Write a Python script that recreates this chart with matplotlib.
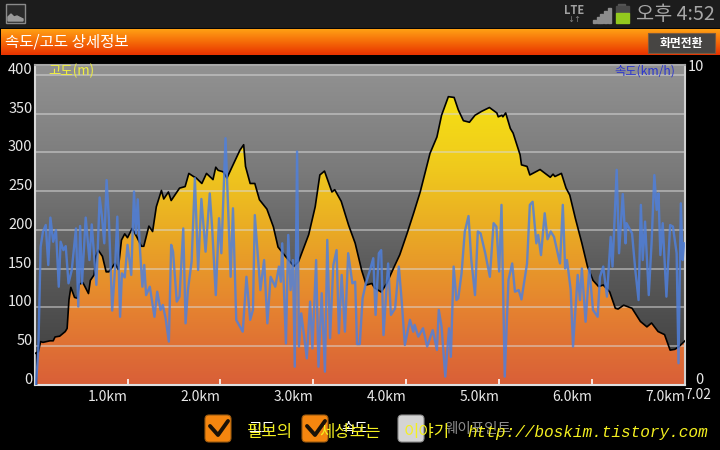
import numpy as np
import matplotlib
matplotlib.use("Agg")
import matplotlib.pyplot as plt
from matplotlib.colors import LinearSegmentedColormap
from matplotlib.patches import FancyBboxPatch, Polygon, Rectangle

plt.rcParams['font.family'] = ['Noto Sans CJK KR', 'DejaVu Sans']

# elevation profile (km, m)
alt_km = [0.01, 0.04, 0.065, 0.09, 0.165, 0.2, 0.22, 0.27, 0.33, 0.35, 0.37, 0.39, 0.43, 0.46, 0.48, 0.52,
          0.58, 0.6, 0.64, 0.66, 0.685, 0.73, 0.77, 0.8, 0.865, 0.9, 0.935, 0.97, 1.0, 1.05, 1.1, 1.15,
          1.175, 1.23, 1.27, 1.31, 1.365, 1.39, 1.44, 1.47, 1.56, 1.62, 1.66, 1.71, 1.74, 1.8, 1.85, 1.92,
          1.95, 1.975, 2.03, 2.07, 2.12, 2.21, 2.25, 2.27, 2.32, 2.37, 2.42, 2.5, 2.57, 2.62, 2.7, 2.79,
          2.84, 2.95, 3.02, 3.07, 3.12, 3.2, 3.23, 3.3, 3.38, 3.45, 3.52, 3.57, 3.63, 3.66, 3.73, 3.79,
          3.86, 3.93, 4.01, 4.08, 4.15, 4.256, 4.33, 4.38, 4.453, 4.515, 4.56, 4.615, 4.68, 4.74, 4.81, 4.895,
          4.975, 4.99, 5.03, 5.04, 5.07, 5.12, 5.15, 5.225,
          5.24, 5.3, 5.33, 5.44, 5.55, 5.58, 5.6, 5.67, 5.72, 5.76, 5.82, 5.89, 5.95, 6.01, 6.07,
          6.12, 6.19, 6.25, 6.28, 6.34, 6.43, 6.52, 6.59, 6.64, 6.71, 6.78, 6.84, 6.89, 6.93, 6.99, 7.0]
alt_m = [41, 43, 56, 55, 57, 57, 62, 63, 69, 73, 110, 126, 113, 112, 130, 132,
         118, 135, 142, 166, 174, 166, 146, 146, 157, 149, 187, 195, 190, 202, 191, 179,
         179, 205, 198, 230, 251, 240, 249, 238, 254, 256, 273, 269, 267, 260, 273, 265,
         281, 277, 275, 267, 280, 303, 310, 282, 260, 260, 239, 227, 204, 178, 166, 153,
         159, 194, 230, 271, 276, 249, 252, 237, 206, 183, 148, 129, 131, 125, 120, 131,
         150, 168, 196, 222, 249, 299, 320, 348, 372, 371, 355, 341, 339, 348, 353, 358,
         351, 346, 348, 346, 351, 331, 325, 297,
         284, 282, 271, 278, 268, 272, 269, 273, 254, 245, 215, 183, 153, 135, 127,
         129, 120, 99, 98, 103, 99, 82, 75, 80, 69, 65, 45, 46, 49, 56, 57]

# speed trace (km, km/h on the 0-10 axis)
spd_km = [0.015, 0.04, 0.065, 0.09, 0.12, 0.147, 0.17, 0.2, 0.23, 0.26, 0.28, 0.31, 0.335, 0.365, 0.4, 0.445,
          0.47, 0.49, 0.51, 0.55, 0.59, 0.615, 0.665, 0.7, 0.725, 0.75, 0.775, 0.8, 0.835, 0.865, 0.89, 0.92,
          0.94, 0.97, 1.0, 1.04, 1.07, 1.09, 1.11, 1.13, 1.16, 1.18, 1.2, 1.24, 1.29, 1.32, 1.355, 1.38,
          1.41, 1.445, 1.47, 1.49, 1.53, 1.56, 1.6, 1.625, 1.65, 1.69, 1.725, 1.76, 1.795, 1.84, 1.885, 1.91,
          1.95, 1.985, 2.01, 2.055, 2.07, 2.11, 2.135, 2.17, 2.21, 2.24, 2.28, 2.32, 2.35, 2.37, 2.43, 2.47,
          2.505, 2.54, 2.59, 2.63, 2.65, 2.665, 2.705, 2.73, 2.755, 2.78, 2.8, 2.825, 2.845, 2.87, 2.93, 2.965,
          2.99, 3.03, 3.055, 3.09, 3.125, 3.15, 3.18, 3.215, 3.25, 3.275, 3.305, 3.34, 3.375, 3.42, 3.45, 3.47,
          3.5, 3.53, 3.565, 3.61, 3.645, 3.67, 3.705, 3.73, 3.755, 3.805, 3.835, 3.88, 3.92, 3.95, 3.985, 4.04,
          4.075, 4.09, 4.13, 4.18, 4.225, 4.285, 4.33, 4.35, 4.38, 4.42, 4.46, 4.48, 4.51, 4.54, 4.56, 4.595,
          4.63, 4.67, 4.7, 4.74, 4.77, 4.8, 4.85, 4.9, 4.94, 4.97, 5.0, 5.025, 5.06, 5.1, 5.14, 5.17,
          5.21, 5.24, 5.3, 5.33, 5.36, 5.4, 5.42, 5.45, 5.49, 5.52, 5.555, 5.59, 5.655, 5.685, 5.71, 5.73,
          5.77, 5.795, 5.845, 5.87, 5.89, 5.93, 5.97, 6.01, 6.06, 6.085, 6.12, 6.16, 6.2, 6.22, 6.265, 6.29,
          6.33, 6.36, 6.37, 6.43, 6.465, 6.5, 6.525, 6.545, 6.57, 6.61, 6.64, 6.67, 6.695, 6.715, 6.735, 6.76,
          6.8, 6.84, 6.87, 6.91, 6.93, 6.955, 6.975, 6.99]
spd_val = [0, 1.13, 4.46, 4.95, 5.16, 3.87, 5.4, 4.62, 5.0, 3.17, 4.62, 4.35, 4.48, 3.28, 3.71, 5.05,
           2.53, 5.13, 3.28, 5.4, 4.03, 5.18, 3.23, 6.05, 5.43, 4.57, 6.61, 5.32, 2.4, 3.71, 5.43, 2.2,
           3.6, 3.47, 4.52, 3.55, 6.24, 4.89, 5.99, 4.57, 3.17, 3.87, 2.9, 3.17, 2.2, 3.01, 2.42, 2.58,
           2.15, 1.4, 4.52, 4.3, 2.69, 2.85, 5.05, 1.99, 3.06, 3.98, 6.67, 3.71, 6.0, 4.3, 6.18, 5.11,
           2.9, 5.38, 4.25, 7.96, 6.72, 3.49, 5.7, 2.1, 1.88, 1.72, 3.49, 2.1, 2.42, 5.48, 3.06, 4.03,
           1.99, 3.49, 3.17, 3.82, 3.33, 4.57, 1.34, 4.84, 3.06, 4.03, 0.59, 7.53, 1.24, 2.31, 0.86, 2.69,
           1.18, 4.03, 0.59, 2.96, 0.43, 4.68, 1.51, 3.87, 4.35, 1.67, 3.55, 1.72, 4.25, 3.28, 3.33, 1.32,
           1.32, 2.8, 3.28, 3.71, 4.09, 2.26, 4.25, 4.35, 1.61, 3.92, 2.26, 2.47, 3.82, 2.74, 1.29, 2.1,
           1.72, 1.94, 1.56, 1.83, 1.24, 1.77, 1.13, 2.42, 1.88, 0.27, 1.83, 0.91, 3.82, 2.74, 2.8, 3.6,
           4.95, 5.45, 4.03, 2.9, 4.95, 4.89, 4.25, 3.49, 5.22, 5.11, 3.66, 5.81, 0.27, 3.39, 3.92, 3.01,
           3.06, 2.76, 3.92, 5.81, 5.91, 4.57, 4.84, 4.19, 5.54, 4.7, 4.95, 4.78, 3.92, 5.81, 3.76, 4.03,
           3.06, 1.24, 3.55, 2.74, 3.76, 2.04, 3.76, 2.42, 2.2, 3.49, 3.82, 2.85, 4.78, 3.82, 6.94, 4.25,
           6.16, 4.57, 5.22, 4.89, 3.71, 2.74, 5.81, 4.03, 5.27, 2.9, 4.57, 6.77, 5.65, 6.18, 4.19, 5.22,
           2.85, 5.16, 5.11, 4.25, 0.7, 5.86, 4.03, 4.57]

km_ticks = [1, 2, 3, 4, 5, 6, 7]
km_labels = ["1.0km", "2.0km", "3.0km", "4.0km", "5.0km", "6.0km", "7.0km"]
alt_ticks = [0, 50, 100, 150, 200, 250, 300, 350, 400]

W, H = 720, 450
fig = plt.figure(figsize=(7.2, 4.5), dpi=100, facecolor='black')

# phone screen around the chart, in pixels
ui = fig.add_axes([0, 0, 1, 1], zorder=0)
ui.set_xlim(0, W)
ui.set_ylim(H, 0)
ui.axis('off')

# status bar
ui.add_patch(Rectangle((0, 0), W, 27, color='#1c1c1c'))
ui.add_patch(Rectangle((6, 4), 19, 19, fc='#2a2a2a', ec='#8a8a8a', lw=1))
ui.add_patch(Polygon([(8, 21), (8, 17), (11, 14), (14, 17), (17, 16), (23, 19), (23, 21)], color='#9a9a9a'))
ui.text(574, 10.5, "LTE", color='#a0a0a0', fontsize=8, fontweight='bold', ha='center', va='center')
ui.text(574, 20, "↓↑", color='#808080', fontsize=6, ha='center', va='center', family='DejaVu Sans')
for i in range(5):
    xl = 593 + i * 3.7
    ui.add_patch(Rectangle((xl, 23 - 3 * (i + 1)), 2.8, 3 * (i + 1), color='#8c8c8c'))
ui.add_patch(Rectangle((618, 3.5), 7, 2.5, color='#555555'))
ui.add_patch(Rectangle((616, 6), 13, 7, color='#4a4a4a'))
ui.add_patch(Rectangle((616, 13), 13, 10, color='#93c91e'))
ui.text(636, 14, "오후 4:52", color='#a6a6a6', fontsize=14.2, ha='left', va='center')

# title bar
bar = np.linspace(0, 1, 64).reshape(-1, 1)
bar_cmap = LinearSegmentedColormap.from_list('bar', ['#ffa014', '#f56a08', '#e83200'])
ui.imshow(bar, extent=(1, W, 55, 29), cmap=bar_cmap, aspect='auto', zorder=1)
ui.text(5, 42, "속도/고도 상세정보", color='white', fontsize=11.2, fontweight='medium', ha='left', va='center', zorder=2)
ui.add_patch(Rectangle((648, 33), 67, 20, fc='#474543', ec='#7a5a40', lw=0.8, zorder=2))
ui.text(681.5, 43, "화면전환", color='white', fontsize=8.5, fontweight='bold', ha='center', va='center', zorder=3)
ui.set_xlim(0, W)
ui.set_ylim(H, 0)

# check boxes and their labels
box_x = [205, 302, 398]
box_fc = ['#f5860f', '#f5860f', '#d4d4d4']
box_ec = ['#9a5a10', '#9a5a10', '#8a8a8a']
for xb, fc, ec in zip(box_x, box_fc, box_ec):
    ui.add_patch(FancyBboxPatch((xb + 2, 417), 22, 23, boxstyle="round,pad=2,rounding_size=4", fc=fc, ec=ec, lw=0.8))
for xb in box_x[:2]:
    ui.plot([xb + 5, xb + 13, xb + 23], [426, 435, 421], color='#1a1208', lw=2.8, solid_capstyle='round')
ui.text(262, 429, "고도", color='white', fontsize=10.5, ha='center', va='center')
ui.text(355, 429, "속도", color='white', fontsize=10.5, ha='center', va='center')
ui.text(478, 429, "웨이포인트", color='#8c8c8c', fontsize=10.5, ha='center', va='center')

# blog watermark printed over the labels
ui.text(247, 432, "필보의", color='#f4f020', fontsize=12, fontweight='medium', ha='left', va='center', zorder=5)
ui.text(319, 432, "세상보는", color='#f4f020', fontsize=12, fontweight='medium', ha='left', va='center', zorder=5)
ui.text(404, 432, "이야기", color='#f4f020', fontsize=12, fontweight='medium', ha='left', va='center', zorder=5)
ui.text(708, 432, "http://boskim.tistory.com", color='#f4f020', fontsize=11.6, ha='right', va='center',
        family='Liberation Mono', style='italic', zorder=5)

# chart
left, right, top, bottom = 34.6, 685, 64.5, 385
ax = fig.add_axes([left / W, 1 - bottom / H, (right - left) / W, (bottom - top) / H], zorder=2)
ax.set_xlim(0, 7.0)
ax.set_ylim(0, 413.5)

back_cmap = LinearSegmentedColormap.from_list('back', ['#929292', '#7a7a7a', '#585858', '#3c3c3c'])
ax.imshow(np.linspace(0, 1, 128).reshape(-1, 1), extent=(0, 7.0, 0, 413.5), cmap=back_cmap, aspect='auto', zorder=0)

fill_cmap = LinearSegmentedColormap.from_list('fill', ['#f6e312', '#f0cc1c', '#e9a825', '#e58230', '#d95f38'])
area = ax.fill_between(alt_km, alt_m, 0, color='none')
img = ax.imshow(np.linspace(0, 1, 128).reshape(-1, 1), extent=(0, 7.0, 0, 385), cmap=fill_cmap, aspect='auto', zorder=1)
img.set_clip_path(area.get_paths()[0], transform=ax.transData)
ax.set_xlim(0, 7.0)
ax.set_ylim(0, 413.5)

for val in alt_ticks[1:]:
    ax.axhline(val, color='#d8d8d8', lw=1.1, alpha=0.65, zorder=2)

ax.plot(alt_km, alt_m, color='black', lw=1.2, zorder=3)
ax.plot([alt_km[0], alt_km[0]], [0, alt_m[0]], color='black', lw=1.0, zorder=3)

# speed uses its own 0-10 axis, with 10 level with 400 m
ax2 = ax.twinx()
ax2.set_ylim(0, 10.3375)
ax2.plot(spd_km, spd_val, color='#4f80dc', lw=1.7, alpha=0.85, solid_joinstyle='round')
ax2.axis('off')

for side, col in [('left', '#d8d8d8'), ('right', '#d0d0d0'), ('bottom', '#e0e0e0'), ('top', '#a8a8a8')]:
    ax.spines[side].set_color(col)
    ax.spines[side].set_linewidth(1.5)

ax.set_xticks(km_ticks)
ax.set_xticklabels(km_labels, ha='right', color='#e8e8e8', fontsize=10)
ax.tick_params(axis='x', direction='in', color='white', length=4, width=1.2, pad=3.5)
ax.set_yticks([])

for val in alt_ticks:
    ax.annotate(str(val), xy=(0, val), xycoords=ax.get_yaxis_transform(), xytext=(-2, 5),
                textcoords='offset pixels', ha='right', va='center', color='#e8e8e8', fontsize=10.5)
ax.text(688, 67, "10", transform=ui.transData, ha='left', va='center', color='#e8e8e8', fontsize=10.5)
ax.text(695, 380, "0", transform=ui.transData, ha='left', va='center', color='#e8e8e8', fontsize=10.5)
ax.text(684, 395, "7.02", transform=ui.transData, ha='left', va='center', color='#e8e8e8', fontsize=10)

ax.text(48, 71, "고도(m)", transform=ui.transData, color='#f0f040', fontsize=9.7, ha='left', va='center', zorder=6)
ax.text(675, 71, "속도(km/h)", transform=ui.transData, color='#2a35d0', fontsize=8.8, ha='right', va='center', zorder=6)

fig.savefig('out.png', dpi=100, facecolor='black')
